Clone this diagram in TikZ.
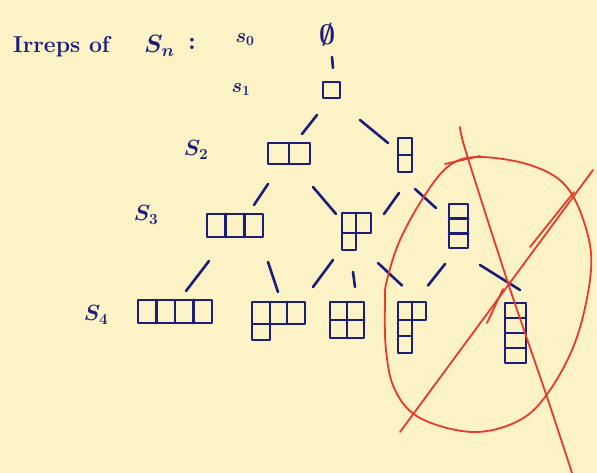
\RequirePackage{fix-cm}
\documentclass[tikz,border=0pt]{standalone}
\usetikzlibrary{calc}
\definecolor{paper}{HTML}{FBF3C6}
\definecolor{ink}{HTML}{1C1C7A}
\definecolor{redpen}{HTML}{E8392B}
\newcommand\linkit[4]{\draw[inkline] ($(#1)+#2$) -- ($(#3)+#4$);}
\begin{document}
\begin{tikzpicture}[x=1pt,y=-1pt,
  inkline/.style={draw=ink,line width=2.6pt,line cap=round,line join=round},
  yd/.style={inkline,inner sep=0pt,outer sep=0pt},
  ghost/.style={inner sep=0pt,outer sep=0pt},
  lbl/.style={text=ink,inner sep=0pt},
  redline/.style={draw=redpen,line width=1.8pt,line cap=round,line join=round}]
\fill[paper] (0,0) rectangle (597,473);
\useasboundingbox (0,0) rectangle (597,473);

% labels
\node[lbl,anchor=base west,font=\fontsize{23}{28}\selectfont\bfseries\boldmath] (title) at (13,53) {Irreps of};
\node[lbl,anchor=base west,font=\fontsize{25}{30}\selectfont\bfseries\boldmath] (sn) at (144,53) {$S_n$};
\node[lbl,anchor=base west,font=\fontsize{25}{30}\selectfont\bfseries\boldmath] (colon) at (188,50) {:};
\node[lbl,font=\fontsize{20}{24}\selectfont\boldmath] (s0) at (245,40) {$s_0$};
\node[lbl,font=\fontsize{20}{24}\selectfont\boldmath] (s1) at (241,90) {$s_1$};
\node[lbl,font=\fontsize{22}{26}\selectfont\boldmath] (s2) at (196,150) {$S_2$};
\node[lbl,font=\fontsize{22}{26}\selectfont\boldmath] (s3) at (146,215) {$S_3$};
\node[lbl,font=\fontsize{22}{26}\selectfont\boldmath] (s4) at (96,315) {$S_4$};
\node[lbl,font=\fontsize{28}{32}\selectfont\boldmath] (e0) at (328,35) {$\emptyset$};

% Young diagrams
\node[yd,minimum width=17pt,minimum height=16pt] (d1) at (331.5,90) {};

\node[yd,minimum width=42pt,minimum height=21pt] (d2) at (289,153.5) {};
\draw[inkline] (d2.north) -- (d2.south);
\node[yd,minimum width=14pt,minimum height=34pt] (d11) at (405,155) {};
\draw[inkline] (d11.west) -- (d11.east);

\node[yd,minimum width=56pt,minimum height=23pt] (d3) at (235,225.5) {};
\foreach \t in {0.333,0.667}
  \draw[inkline] ($(d3.north west)!\t!(d3.north east)$) -- ($(d3.south west)!\t!(d3.south east)$);
\node[ghost,minimum width=29pt,minimum height=37pt] (d21) at (356.5,231.5) {};
\begin{scope}[shift={(d21.north west)}]
  \draw[inkline] (0,0) rectangle (29,20) (0,20) rectangle (14,37) (14,0) -- (14,20);
\end{scope}
\node[yd,minimum width=19pt,minimum height=44pt] (d111) at (458.5,226) {};
\foreach \t in {0.333,0.667}
  \draw[inkline] ($(d111.north west)!\t!(d111.south west)$) -- ($(d111.north east)!\t!(d111.south east)$);

\node[yd,minimum width=74pt,minimum height=23pt] (d4) at (175,311.5) {};
\foreach \t in {0.25,0.5,0.75}
  \draw[inkline] ($(d4.north west)!\t!(d4.north east)$) -- ($(d4.south west)!\t!(d4.south east)$);
\node[ghost,minimum width=53pt,minimum height=38pt] (d31) at (278.5,321) {};
\begin{scope}[shift={(d31.north west)}]
  \draw[inkline] (0,0) rectangle (53,22) (0,22) rectangle (18,38) (18,0) -- (18,22) (35,0) -- (35,22);
\end{scope}
\node[yd,minimum width=34pt,minimum height=36pt] (d22) at (347,320) {};
\draw[inkline] (d22.north) -- (d22.south) (d22.west) -- (d22.east);
\node[ghost,minimum width=28pt,minimum height=51pt] (d211) at (412,327.5) {};
\begin{scope}[shift={(d211.north west)}]
  \draw[inkline] (0,0) rectangle (28,18) (0,18) rectangle (14,34) (0,34) rectangle (14,51) (14,0) -- (14,18);
\end{scope}
\node[yd,minimum width=21pt,minimum height=60pt] (d1111) at (515.5,333) {};
\foreach \t in {0.25,0.5,0.75}
  \draw[inkline] ($(d1111.north west)!\t!(d1111.south west)$) -- ($(d1111.north east)!\t!(d1111.south east)$);

% connectors
\linkit{e0}{(4,22)}{d1}{(1.5,-22)}
\linkit{d1}{(-14.5,25)}{d2}{(13,-19.5)}
\linkit{d1}{(28.5,30)}{d11}{(-17,-12)}
\linkit{d2}{(-21,30.5)}{d3}{(19,-20.5)}
\linkit{d2}{(24,33.5)}{d21}{(-20.5,-17.5)}
\linkit{d11}{(-6,38)}{d21}{(27.5,-17.5)}
\linkit{d11}{(10,34)}{d111}{(-22.5,-18)}
\linkit{d3}{(-26,35.5)}{d4}{(11,-20.5)}
\linkit{d3}{(33,36.5)}{d31}{(-0.5,-29)}
\linkit{d21}{(-23.5,28.5)}{d31}{(34.5,-34)}
\linkit{d21}{(-3.5,40.5)}{d22}{(8,-33)}
\linkit{d21}{(21.5,31.5)}{d211}{(-10,-42)}
\linkit{d111}{(-13.5,38)}{d211}{(16,-42)}
\linkit{d111}{(21.5,39)}{d1111}{(4.5,-43)}

% red marks
\draw[redline] plot[smooth cycle,tension=0.6] coordinates {
  (385,300) (386,350) (395,390) (420,418) (473,432) (520,420) (550,390)
  (577,337) (591,270) (585,225) (565,185) (530,165) (480,157) (450,165)
  (425,195) (400,240) (387,280)};
\draw[redline] (445,164) -- (480,156);
\draw[redline] plot[smooth,tension=0.5] coordinates {(460,127) (466,152) (508,283) (547,397) (572,473)};
\draw[redline] (400,432) -- (593,170);
\draw[redline] (530,247) -- (574,192);
\draw[redline] (487,323) -- (503,289);
\end{tikzpicture}
\end{document}
